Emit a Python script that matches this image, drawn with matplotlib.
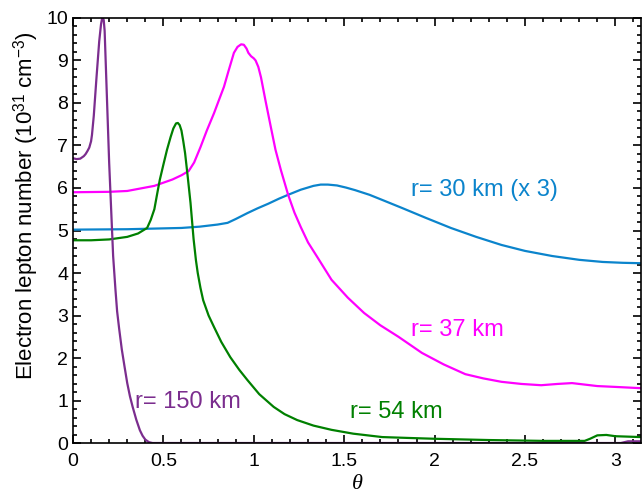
import matplotlib
matplotlib.use('Agg')
import matplotlib.pyplot as plt
import numpy as np
from matplotlib.ticker import MultipleLocator

plt.rcParams['font.family'] = ['Liberation Sans', 'DejaVu Sans']
plt.rcParams['mathtext.fontset'] = 'custom'
plt.rcParams['mathtext.rm'] = 'Liberation Sans'
plt.rcParams['mathtext.it'] = 'Liberation Serif:italic'

# r = 30 km (x 3)
th_30 = [0, 0.3, 0.6, 0.7, 0.8, 0.855, 0.9, 0.965, 1.02, 1.08, 1.14, 1.19,
         1.26, 1.33, 1.37, 1.41, 1.46, 1.51, 1.56, 1.64, 1.71, 1.82, 1.95,
         2.09, 2.23, 2.37, 2.5, 2.65, 2.8, 2.93, 3.04, 3.1416]
n_30 = [5.02, 5.03, 5.06, 5.09, 5.14, 5.18, 5.27, 5.41, 5.52, 5.63, 5.75, 5.84,
        5.96, 6.05, 6.08, 6.08, 6.06, 6.01, 5.95, 5.84, 5.72, 5.53, 5.3,
        5.06, 4.85, 4.66, 4.52, 4.4, 4.31, 4.26, 4.24, 4.23]

# r = 37 km
th_37 = [0, 0.2, 0.3, 0.45, 0.55, 0.6, 0.64, 0.67, 0.705, 0.74, 0.78, 0.81,
         0.835, 0.86, 0.89, 0.91, 0.93, 0.945, 0.96, 0.97, 0.985, 1.0, 1.01,
         1.025, 1.04, 1.065, 1.094, 1.12, 1.15, 1.19, 1.225, 1.26, 1.3, 1.355,
         1.43, 1.52, 1.61, 1.7, 1.8, 1.93, 2.05, 2.17, 2.27, 2.37, 2.48, 2.59,
         2.68, 2.76, 2.82, 2.9, 3.0, 3.1416]
n_37 = [5.9, 5.91, 5.93, 6.05, 6.2, 6.3, 6.4, 6.6, 6.96, 7.35, 7.76, 8.1,
        8.38, 8.75, 9.18, 9.32, 9.38, 9.37, 9.28, 9.18, 9.1, 9.05, 9.0,
        8.85, 8.6, 8.05, 7.44, 6.9, 6.42, 5.84, 5.42, 5.08, 4.72, 4.35,
        3.84, 3.42, 3.06, 2.77, 2.5, 2.12, 1.85, 1.62, 1.52, 1.44, 1.39, 1.36,
        1.39, 1.41, 1.38, 1.34, 1.32, 1.29]

# r = 54 km
th_54 = [0, 0.1, 0.2, 0.3, 0.36, 0.41, 0.43, 0.45, 0.465, 0.48, 0.5, 0.52,
         0.54, 0.555, 0.57, 0.58, 0.59, 0.6, 0.61, 0.62, 0.635, 0.65, 0.667,
         0.68, 0.69, 0.705, 0.72, 0.75, 0.78, 0.82, 0.87, 0.92, 0.965, 1.03,
         1.11, 1.17, 1.24, 1.33, 1.43, 1.55, 1.71, 1.85, 2.0, 2.3, 2.6, 2.83,
         2.86, 2.9, 2.95, 3.0, 3.1416]
n_54 = [4.77, 4.77, 4.79, 4.85, 4.93, 5.06, 5.25, 5.5, 5.85, 6.19, 6.55, 6.9,
        7.2, 7.4, 7.52, 7.53, 7.48, 7.35, 7.1, 6.82, 6.25, 5.65, 4.8,
        4.3, 4.0, 3.65, 3.36, 3.0, 2.73, 2.38, 2.02, 1.72, 1.48, 1.15,
        0.85, 0.68, 0.54, 0.41, 0.31, 0.22, 0.14, 0.12, 0.1, 0.07, 0.05, 0.05,
        0.1, 0.18, 0.19, 0.16, 0.14]

# r = 150 km
th_150 = [0, 0.02, 0.04, 0.06, 0.07, 0.08, 0.09, 0.1, 0.105, 0.115, 0.13,
          0.145, 0.155, 0.16, 0.165, 0.17, 0.175, 0.2, 0.222, 0.235, 0.244,
          0.255, 0.27, 0.285, 0.3, 0.315, 0.33, 0.35, 0.37, 0.385, 0.4, 0.42,
          0.44, 3.03, 3.07, 3.1416]
n_150 = [6.7, 6.68, 6.69, 6.75, 6.8, 6.87, 6.95, 7.1, 7.25, 7.7, 8.6,
         9.45, 9.85, 9.97, 10.0, 9.95, 9.7, 6.6, 4.4, 3.6, 3.1,
         2.7, 2.2, 1.8, 1.41, 1.1, 0.85, 0.55, 0.3, 0.17, 0.08, 0.02,
         0.0, 0.0, 0.04, 0.04]

c30 = '#0b84cc'
c37 = '#ff00ff'
c54 = '#008000'
c150 = '#7b2d8e'

fig = plt.figure(figsize=(6.42, 4.94), dpi=100)
ax = fig.add_axes([0.1137, 0.1032, 0.8847, 0.8604])

ax.plot(th_30, n_30, color=c30, lw=1.6)
ax.plot(th_37, n_37, color=c37, lw=1.6)
ax.plot(th_54, n_54, color=c54, lw=1.6)
ax.plot(th_150, n_150, color=c150, lw=1.6)

ax.text(1.872, 5.95, 'r= 30 km (x 3)', color=c30, fontsize=17, va='center')
ax.text(1.872, 2.66, 'r= 37 km', color=c37, fontsize=17, va='center')
ax.text(1.53, 0.73, 'r= 54 km', color=c54, fontsize=17, va='center')
ax.text(0.344, 0.96, 'r= 150 km', color=c150, fontsize=17, va='center')

ax.set_xlim(0, np.pi)
ax.set_ylim(0, 10)
ax.xaxis.set_major_locator(MultipleLocator(0.5))
ax.xaxis.set_minor_locator(MultipleLocator(0.1))
ax.yaxis.set_major_locator(MultipleLocator(1))
ax.yaxis.set_minor_locator(MultipleLocator(0.2))
ax.set_xticks([0, 0.5, 1, 1.5, 2, 2.5, 3])
ax.set_xticklabels(['0', '0.5', '1', '1.5', '2', '2.5', '3'])
ax.tick_params(which='both', direction='in', top=True, right=True, labelsize=14,
               width=1.2)
ax.tick_params(which='major', length=6)
ax.tick_params(which='minor', length=3)
ax.tick_params(axis='x', pad=7)
for s in ax.spines.values():
    s.set_linewidth(1.2)

ax.set_xlabel(r'$\theta$', fontsize=16, labelpad=2)
ax.set_ylabel(r'Electron lepton number (10$^{31}$ cm$^{-3}$)', fontsize=16)
ax.yaxis.set_label_coords(-0.057, 0.558)

fig.savefig('out.png', dpi=100)
